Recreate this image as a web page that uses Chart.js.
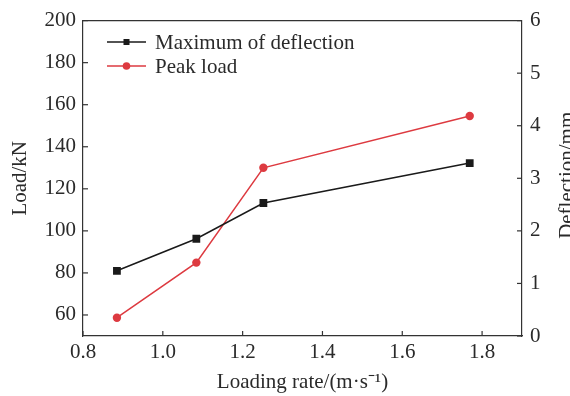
<!DOCTYPE html>
<html>
<head>
<meta charset="utf-8">
<script src="https://cdn.jsdelivr.net/npm/chart.js@4"></script>
<style>
html,body{margin:0;padding:0;background:#fff;}
#wrap{width:570px;height:396px;}
</style>
</head>
<body>
<div id="wrap"><canvas id="chart" width="570" height="396"></canvas></div>
<script>
// data
const loadingRate = [0.885, 1.084, 1.252, 1.769];
const maxDeflection = [1.24, 1.85, 2.53, 3.29];
const peakLoad = [58.7, 84.9, 130.0, 154.6];

const xTitle = "Loading rate/(m\u00b7s\u207b\u00b9)";
const leftTitle = "Load/kN";
const rightTitle = "Deflection/mm";
const legendNames = ["Maximum of deflection", "Peak load"];

const FONT = "'Liberation Serif', 'Times New Roman', serif";
const FS = 21;
const AXIS = "#333";
const TXT = "#2a2a2a";
const BLACK = "#1a1a1a";
const RED = "#dd3a40";

function pts(xs, ys){
  let out=[]
  for(let i=0;i<xs.length;i++) out.push({x:xs[i],y:ys[i]})
  return out
}

// ticks pointing into the plot + top frame line + right title + legend
const extras = {
  id:"extras",
  afterDraw(chart){
    let ctx=chart.ctx
    let a=chart.chartArea
    ctx.save()
    ctx.strokeStyle=AXIS
    ctx.lineWidth=1.2
    ctx.beginPath()
    ctx.moveTo(a.left,a.top)
    ctx.lineTo(a.right,a.top)
    ctx.stroke()

    let len=5
    let sx=chart.scales.x
    sx.ticks.forEach(t=>{
      let p=sx.getPixelForValue(t.value)
      ctx.beginPath(); ctx.moveTo(p,a.bottom); ctx.lineTo(p,a.bottom-len); ctx.stroke()
    })
    let sl=chart.scales.yLoad
    sl.ticks.forEach(t=>{
      let p=sl.getPixelForValue(t.value)
      ctx.beginPath(); ctx.moveTo(a.left,p); ctx.lineTo(a.left+len,p); ctx.stroke()
    })
    let sr=chart.scales.yDef
    sr.ticks.forEach(t=>{
      let p=sr.getPixelForValue(t.value)
      ctx.beginPath(); ctx.moveTo(a.right,p); ctx.lineTo(a.right-len,p); ctx.stroke()
    })

    // right axis title, reading bottom to top
    ctx.fillStyle=TXT
    ctx.font=FS+"px "+FONT
    ctx.textAlign="center"
    ctx.textBaseline="alphabetic"
    ctx.translate(573,(a.top+a.bottom)/2-3)
    ctx.rotate(-Math.PI/2)
    ctx.fillText(rightTitle,0,0)
    ctx.restore()

    // legend
    ctx.save()
    let rows=[
      {y:42,color:BLACK,shape:"rect"},
      {y:66,color:RED,shape:"circle"}
    ]
    rows.forEach((r,i)=>{
      ctx.strokeStyle=r.color
      ctx.lineWidth=1.5
      ctx.beginPath(); ctx.moveTo(107,r.y); ctx.lineTo(146,r.y); ctx.stroke()
      ctx.fillStyle=r.color
      if(r.shape=="rect"){
        ctx.fillRect(123.5,r.y-3,6,6)
      }else{
        ctx.beginPath(); ctx.arc(126.5,r.y,3.8,0,Math.PI*2); ctx.fill()
      }
      ctx.fillStyle=TXT
      ctx.font=FS+"px "+FONT
      ctx.textAlign="left"
      ctx.textBaseline="middle"
      ctx.fillText(legendNames[i],155,r.y+1)
    })
    ctx.restore()
  }
}

let ctx=document.getElementById("chart").getContext("2d")

new Chart(ctx,{
type:"line",
data:{
datasets:[
{
label:legendNames[0],
data:pts(loadingRate,maxDeflection),
yAxisID:"yDef",
borderColor:BLACK,
backgroundColor:BLACK,
borderWidth:1.5,
pointStyle:"rect",
pointRadius:5.5,
pointBorderWidth:0,
tension:0
},
{
label:legendNames[1],
data:pts(loadingRate,peakLoad),
yAxisID:"yLoad",
borderColor:RED,
backgroundColor:RED,
borderWidth:1.5,
pointStyle:"circle",
pointRadius:4.2,
pointBorderWidth:0,
tension:0
}
]
},
options:{
responsive:false,
animation:false,
layout:{padding:{top:18,left:0,right:0,bottom:0}},
plugins:{legend:{display:false},tooltip:{enabled:false}},
scales:{
x:{
type:"linear",
min:0.8,max:1.9,
grid:{display:true,drawOnChartArea:false,drawTicks:false},
border:{display:true,color:AXIS,width:1.2},
ticks:{stepSize:0.2,includeBounds:false,padding:4,color:TXT,
font:{family:FONT,size:FS},
callback:v=>v.toFixed(1),maxRotation:0},
title:{display:true,text:xTitle,color:TXT,font:{family:FONT,size:FS},padding:{top:0,bottom:1}},
afterFit:s=>{s.height=60}
},
yLoad:{
type:"linear",position:"left",
min:50,max:200,
grid:{display:true,drawOnChartArea:false,drawTicks:false},
border:{display:true,color:AXIS,width:1.2},
ticks:{stepSize:20,includeBounds:false,padding:7,color:TXT,font:{family:FONT,size:FS}},
title:{display:true,text:leftTitle,color:TXT,font:{family:FONT,size:FS},padding:{top:8,bottom:0}},
afterFit:s=>{s.width=83}
},
yDef:{
type:"linear",position:"right",
min:0,max:6,
grid:{display:true,drawOnChartArea:false,drawTicks:false},
border:{display:true,color:AXIS,width:1.2},
ticks:{stepSize:1,padding:8,color:TXT,font:{family:FONT,size:FS}},
afterFit:s=>{s.width=48}
}
}
},
plugins:[extras]
})
</script>
</body>
</html>
